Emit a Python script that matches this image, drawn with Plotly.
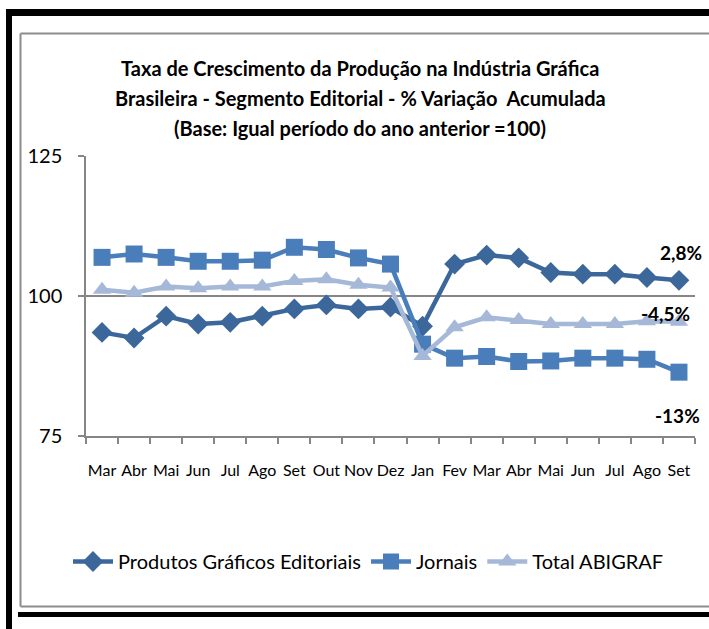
import plotly.graph_objects as go

months = ["Mar", "Abr", "Mai", "Jun", "Jul", "Ago", "Set", "Out", "Nov", "Dez",
          "Jan", "Fev", "Mar", "Abr", "Mai", "Jun", "Jul", "Ago", "Set"]
produtos = [93.5, 92.5, 96.4, 95.0, 95.3, 96.4, 97.7, 98.4, 97.7, 98.0,
            94.6, 105.7, 107.3, 106.8, 104.2, 103.9, 103.9, 103.3, 102.8]
jornais = [106.9, 107.5, 106.9, 106.2, 106.2, 106.4, 108.7, 108.3, 106.8, 105.7,
           91.4, 88.9, 89.2, 88.3, 88.4, 88.9, 88.9, 88.7, 86.4]
total = [101.1, 100.6, 101.7, 101.4, 101.7, 101.7, 102.7, 103.0, 102.0, 101.5,
         89.3, 94.4, 96.2, 95.7, 95.0, 95.0, 95.0, 95.5, 95.4]
series_names = ["Produtos Gráficos Editoriais", "Jornais", "Total ABIGRAF"]
end_labels = ["2,8%", "-13%", "-4,5%"]
title_lines = ["Taxa de Crescimento da Produção na Indústria Gráfica",
               "Brasileira - Segmento Editorial - % Variação  Acumulada",
               "(Base: Igual período do ano anterior =100)"]

FONT = "Lato, Open Sans, sans-serif"
W, H = 709, 629
L, R, T, B = 86, 695, 156, 436

def px(x):
    return (x - L) / (R - L)

def py(y):
    return (B - y) / (B - T)

x = list(range(len(months)))
colors = ["#3B679B", "#4A7EBB", "#A5B8D7"]
symbols = ["diamond", "square", "triangle-up"]
sizes = [16, 17, 16]
data = [produtos, jornais, total]

fig = go.Figure()
for name, ys, c, s, sz in zip(series_names, data, colors, symbols, sizes):
    fig.add_trace(go.Scatter(x=x, y=ys, name=name, mode="lines+markers",
                             line=dict(color=c, width=4.5),
                             marker=dict(symbol=s, size=sz, color=c)))

shifts = [(2, 28), (-1, -43), (-13, 8)]
for ys, lab, (dx, dy) in zip(data, end_labels, shifts):
    fig.add_annotation(x=x[-1], y=ys[-1], text="<b>" + lab + "</b>", showarrow=False,
                       xshift=dx, yshift=dy, font=dict(family=FONT, size=19, color="black"))

for i, (t, yy) in enumerate(zip(title_lines, [68, 98, 128])):
    fig.add_annotation(x=px(360), y=py(yy), xref="paper", yref="paper", text="<b>" + t + "</b>",
                       showarrow=False, font=dict(family=FONT, size=20, color="black"),
                       xanchor="center", yanchor="middle")

shapes = []
# outer thick black frame
shapes.append(dict(type="line", xref="paper", yref="paper", x0=px(9), x1=px(9), y0=py(9), y1=py(640),
                   line=dict(color="black", width=6)))
shapes.append(dict(type="line", xref="paper", yref="paper", x0=px(6), x1=px(720), y0=py(12.5), y1=py(12.5),
                   line=dict(color="black", width=7)))
shapes.append(dict(type="line", xref="paper", yref="paper", x0=px(18), x1=px(720), y0=py(614.5), y1=py(614.5),
                   line=dict(color="black", width=5)))
# inner gray frame
shapes.append(dict(type="line", xref="paper", yref="paper", x0=px(20.5), x1=px(720), y0=py(33.5), y1=py(33.5),
                   line=dict(color="#8C8C8C", width=2)))
shapes.append(dict(type="line", xref="paper", yref="paper", x0=px(20.5), x1=px(20.5), y0=py(33.5), y1=py(606.5),
                   line=dict(color="#8C8C8C", width=2)))
shapes.append(dict(type="line", xref="paper", yref="paper", x0=px(20.5), x1=px(720), y0=py(606.5), y1=py(606.5),
                   line=dict(color="#8C8C8C", width=2)))

fig.update_layout(
    width=W, height=H,
    margin=dict(l=L, r=W - R, t=T, b=H - B, pad=0),
    paper_bgcolor="white", plot_bgcolor="white",
    font=dict(family=FONT, color="black"),
    showlegend=True,
    legend=dict(orientation="h", x=px(68), y=py(542), xanchor="left", yanchor="top",
                font=dict(family=FONT, size=20, color="black"), itemwidth=40,
                tracegroupgap=0, bgcolor="rgba(0,0,0,0)"),
    shapes=shapes,
)
fig.update_xaxes(range=[-0.5, len(months) - 0.5], tickmode="array", tickvals=x, ticktext=months,
                 ticks="", showgrid=False, zeroline=False, tickangle=0,
                 showline=True, linecolor="#868686", linewidth=1.5,
                 tickfont=dict(family=FONT, size=16, color="black"), ticklabelstandoff=19,
                 minor=dict(tick0=-0.5, dtick=1, ticks="outside", ticklen=6, tickcolor="#868686",
                            tickwidth=1.5, showgrid=False))
fig.update_yaxes(range=[75, 125], tickmode="array", tickvals=[75, 100, 125], ticks="outside",
                 ticklen=6, tickcolor="#868686", tickwidth=1.5,
                 showgrid=True, gridcolor="#868686", gridwidth=1.5, zeroline=False,
                 showline=True, linecolor="#868686", linewidth=1.5,
                 tickfont=dict(family=FONT, size=20, color="black"), ticklabelstandoff=12)

fig.write_html("out.html", config={"displayModeBar": False},
               post_script="document.body.style.margin='0';document.body.style.overflow='hidden';")
